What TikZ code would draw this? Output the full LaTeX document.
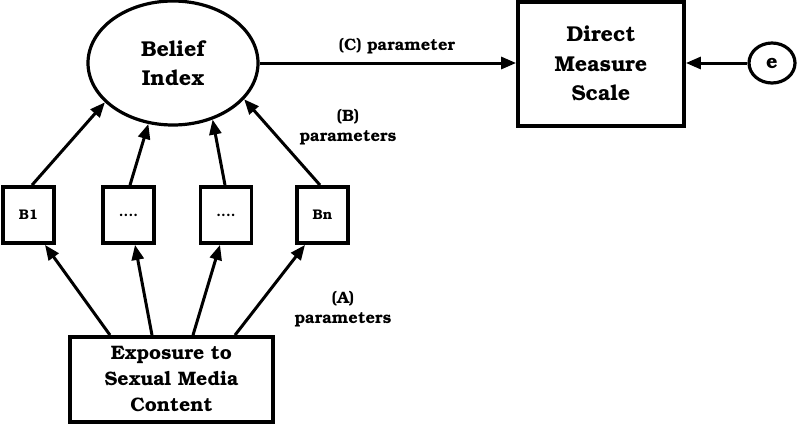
\documentclass[tikz,border=0pt]{standalone}
\usepackage[T1]{fontenc}
\usepackage{bookman}
\usetikzlibrary{arrows.meta,shapes.geometric}
\begin{document}
\begin{tikzpicture}[x=1pt,y=-1pt,
  big/.style={font=\fontsize{21.5}{29.5}\selectfont\bfseries, align=center},
  lab/.style={font=\fontsize{16.5}{20}\selectfont\bfseries, align=center},
  boxA/.style={draw, line width=3.8pt, inner sep=0pt},
  small/.style={boxA, minimum width=51pt, minimum height=56pt, font=\fontsize{14}{16}\selectfont\bfseries},
  arr/.style={line width=3pt, -{Triangle[length=15pt,width=12pt]}}
]
\useasboundingbox (0,0) rectangle (800,424);
\node[draw, ellipse, line width=3.2pt, minimum width=170pt, minimum height=124pt, inner sep=0pt, big] (belief) at (173,63) {Belief\\Index};
\node[boxA, minimum width=166pt, minimum height=124pt, big] (direct) at (601,64) {Direct\\Measure\\Scale};
\node[draw, ellipse, line width=3.2pt, minimum width=46pt, minimum height=40pt, inner sep=0pt, font=\fontsize{20}{22}\selectfont\bfseries] (e) at (772,63) {e};
\node[small] (b1) at (28.5,215) {B1};
\node[small] (b2) at (128.5,215) {....};
\node[small] (b3) at (226,215) {....};
\node[small] (bn) at (322.5,215) {Bn};
\node[boxA, minimum width=203pt, minimum height=85pt, font=\fontsize{19.5}{26}\selectfont\bfseries, align=center] (expo) at (171.5,379.5) {Exposure to\\Sexual Media\\Content};
\node[lab] (lc) at (397,46) {(C) parameter};
\node[lab] (lb) at (348,127) {(B)\\parameters};
\node[lab] (la) at (343,309) {(A)\\parameters};
\draw[arr] (belief.east) -- (belief.east -| direct.west);
\draw[arr] (e.west) -- (e.west -| direct.east);
\draw[arr] ([xshift=-61.5pt]expo.north) -- ([xshift=16.5pt]b1.south);
\draw[arr] ([xshift=-19.5pt]expo.north) -- ([xshift=6.5pt]b2.south);
\draw[arr] ([xshift=21.5pt]expo.north) -- ([xshift=-6pt]b3.south);
\draw[arr] ([xshift=63.5pt]expo.north) -- ([xshift=-17.5pt]bn.south);
\draw[arr] ([xshift=3.5pt]b1.north) -- (belief.210.8);
\draw[arr] ([xshift=1.5pt]b2.north) -- (belief.248.5);
\draw[arr] ([xshift=-1pt]b3.north) -- (belief.305);
\draw[arr] ([xshift=-2.5pt]bn.north) -- (belief.333);
\end{tikzpicture}
\end{document}
